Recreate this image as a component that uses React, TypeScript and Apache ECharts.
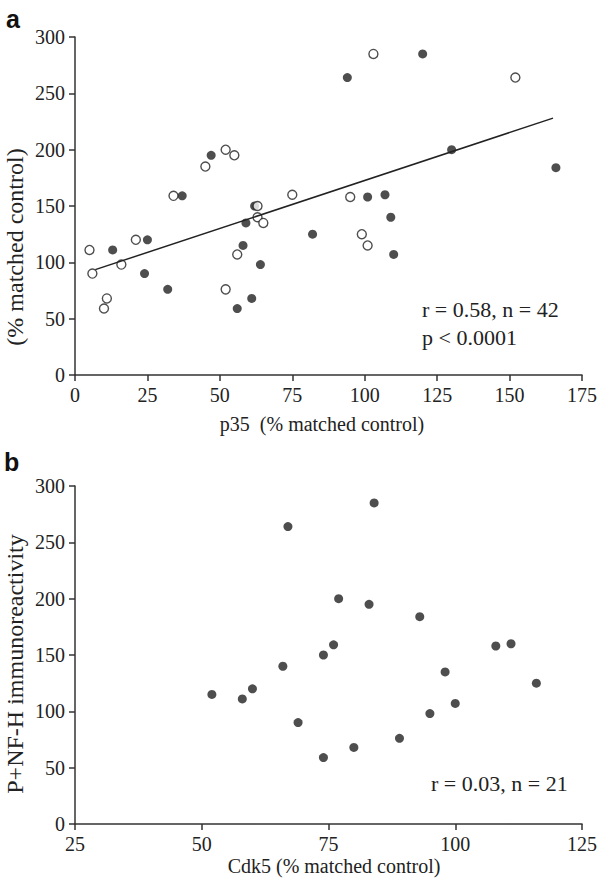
import React, { useEffect, useRef } from "react";
import * as echarts from "echarts";

// Panel a: p35 vs P+NF-H (open and filled groups)
const openA: [number, number][] = [
  [5, 111], [6, 90], [10, 59], [11, 68], [16, 98], [21, 120], [34, 159],
  [45, 185], [52, 200], [55, 195], [52, 76], [56, 107], [63, 150], [63, 140],
  [65, 135], [75, 160], [95, 158], [99, 125], [101, 115], [103, 285], [152, 264],
];
const filledA: [number, number][] = [
  [13, 111], [24, 90], [25, 120], [32, 76], [37, 159], [47, 195], [56, 59],
  [58, 115], [59, 135], [61, 68], [62, 150], [64, 98], [82, 125], [94, 264],
  [101, 158], [107, 160], [109, 140], [110, 107], [120, 285], [130, 200], [166, 184],
];
const fitA: [number, number][] = [[7, 93.5], [165, 228]];

// Panel b: Cdk5 vs P+NF-H
const pointsB: [number, number][] = [
  [52, 115], [58, 111], [60, 120], [66, 140], [67, 264], [69, 90], [74, 59],
  [74, 150], [76, 159], [77, 200], [80, 68], [83, 195], [84, 285], [89, 76],
  [93, 184], [95, 98], [98, 135], [100, 107], [108, 158], [111, 160], [116, 125],
];

const xTitleA = "p35  (% matched control)";
const xTitleB = "Cdk5 (% matched control)";
const yTitleA = "(% matched control)";
const yTitleB = "P+NF-H immunoreactivity";
const statA1 = "r = 0.58, n = 42";
const statA2 = "p < 0.0001";
const statB = "r = 0.03, n = 21";

const SERIF = "Liberation Serif";
const INK = "#222";

export default function App() {
  const ref = useRef<HTMLDivElement>(null);
  useEffect(() => {
    if (!ref.current) return;
    const chart = echarts.init(ref.current, undefined, { renderer: "svg" });
    const mkAxis = (extra: any) => ({
      type: "value",
      axisLine: { show: true, onZero: false, lineStyle: { color: "#333", width: 1.5 } },
      axisTick: { show: true, inside: false, length: 6, lineStyle: { color: "#333", width: 1.5 } },
      splitLine: { show: false },
      axisLabel: { color: INK, fontFamily: SERIF, fontSize: 20, margin: 10 },
      ...extra,
    });
    const txt = (size: number, text: string, align: string) => ({
      text,
      fill: INK,
      fontFamily: SERIF,
      fontSize: size,
      align,
      verticalAlign: "middle",
    });
    chart.setOption({
      animation: false,
      backgroundColor: "#fff",
      textStyle: { fontFamily: SERIF },
      grid: [
        { left: 75, right: 17, top: 37, height: 338 },
        { left: 75, right: 16, top: 486, height: 338 },
      ],
      xAxis: [
        mkAxis({ gridIndex: 0, min: 0, max: 175, interval: 25 }),
        mkAxis({ gridIndex: 1, min: 25, max: 125, interval: 25 }),
      ],
      yAxis: [
        mkAxis({ gridIndex: 0, min: 0, max: 300, interval: 50 }),
        mkAxis({ gridIndex: 1, min: 0, max: 300, interval: 50 }),
      ],
      series: [
        {
          type: "line", xAxisIndex: 0, yAxisIndex: 0, data: fitA, symbol: "none",
          lineStyle: { color: INK, width: 1.5 }, silent: true,
        },
        {
          type: "scatter", xAxisIndex: 0, yAxisIndex: 0, data: filledA,
          symbol: "circle", symbolSize: 9, itemStyle: { color: INK },
        },
        {
          type: "scatter", xAxisIndex: 0, yAxisIndex: 0, data: openA,
          symbol: "circle", symbolSize: 9,
          itemStyle: { color: "#fff", borderColor: INK, borderWidth: 1.4 },
        },
        {
          type: "scatter", xAxisIndex: 1, yAxisIndex: 1, data: pointsB,
          symbol: "circle", symbolSize: 9, itemStyle: { color: INK },
        },
      ],
      graphic: [
        { type: "text", left: 6, top: 6, style: { text: "a", fill: "#111", fontFamily: "Liberation Sans", fontWeight: "bold", fontSize: 25 } },
        { type: "text", left: 4, top: 449, style: { text: "b", fill: "#111", fontFamily: "Liberation Sans", fontWeight: "bold", fontSize: 25 } },
        { type: "text", x: 322, y: 424, style: txt(20, xTitleA, "center") },
        { type: "text", x: 334, y: 866, style: txt(20, xTitleB, "center") },
        { type: "text", x: 15, y: 247, rotation: Math.PI / 2, style: txt(24, yTitleA, "center") },
        { type: "text", x: 15, y: 664, rotation: Math.PI / 2, style: txt(24, yTitleB, "center") },
        { type: "text", x: 422, y: 309, style: txt(22, statA1, "left") },
        { type: "text", x: 422, y: 337, style: txt(22, statA2, "left") },
        { type: "text", x: 431, y: 783, style: txt(22, statB, "left") },
      ],
    });
    return () => chart.dispose();
  }, []);
  return (
    <div
      ref={ref}
      style={{ position: "fixed", left: 0, top: 0, width: 600, height: 882, background: "#fff" }}
    />
  );
}
